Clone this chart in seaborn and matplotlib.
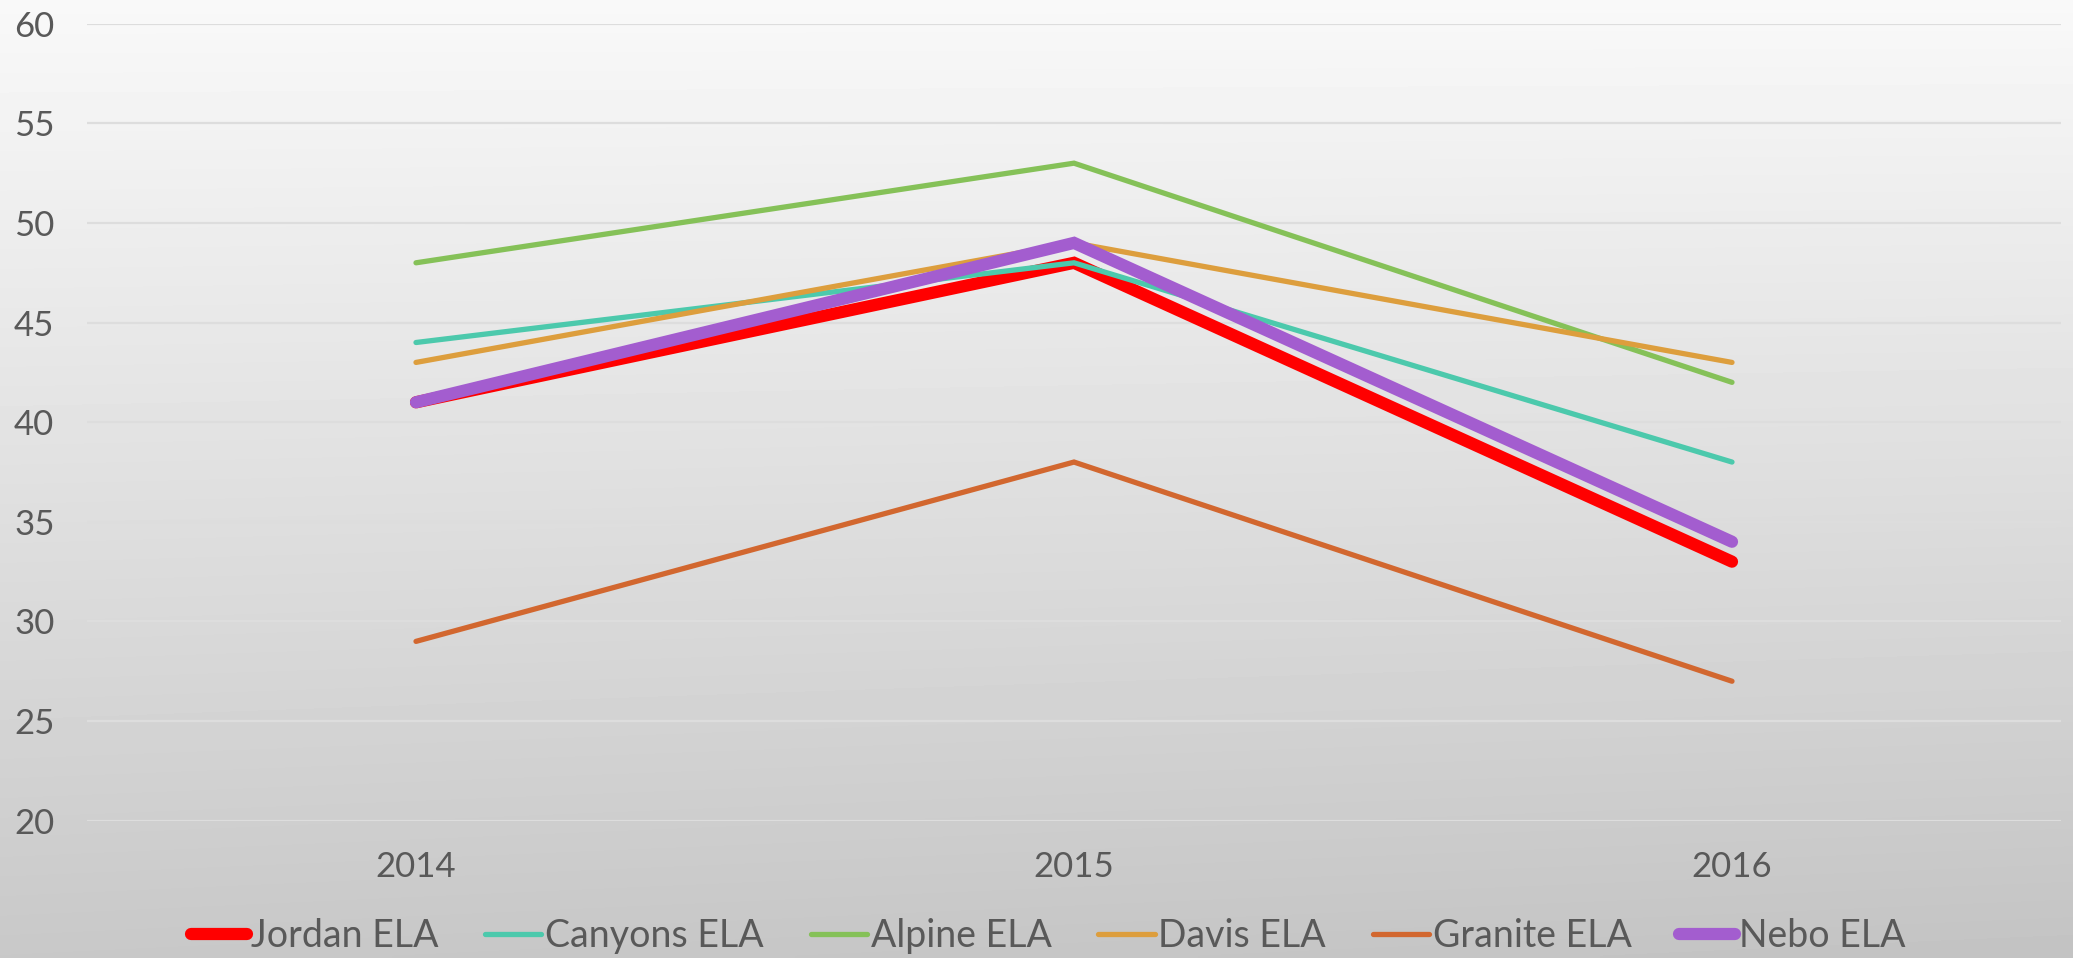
import numpy as np
import pandas as pd
import matplotlib
matplotlib.use("Agg")
import matplotlib.pyplot as plt
import matplotlib.transforms as mtransforms
import seaborn as sns

years = ["2014", "2015", "2016"]
jordan = [41, 48, 33]
canyons = [44, 48, 38]
alpine = [48, 53, 42]
davis = [43, 49, 43]
granite = [29, 38, 27]
nebo = [41, 49, 34]

series_names = ["Jordan ELA", "Canyons ELA", "Alpine ELA", "Davis ELA", "Granite ELA", "Nebo ELA"]
series_values = [jordan, canyons, alpine, davis, granite, nebo]
colors = ["#FF0000", "#4CC9AC", "#85C158", "#DD9E3D", "#D2672F", "#A35DCF"]
widths = [8.8, 3.8, 3.8, 3.8, 3.8, 8.8]

sns.set_theme(style="white")
plt.rcParams["font.family"] = ["Lato", "DejaVu Sans"]
text_color = "#595959"

W, H = 2073, 958
fig = plt.figure(figsize=(W / 100, H / 100), dpi=100)

# soft grey gradient behind everything
bg = fig.add_axes([0, 0, 1, 1], zorder=-10)
yy, xx = np.mgrid[0:1:200j, 0:1:200j]
shade = 0.975 - 0.19 * yy - 0.02 * xx * yy
bg.imshow(shade, cmap="gray", vmin=0, vmax=1, aspect="auto",
          extent=[0, 1, 0, 1], origin="upper", interpolation="bilinear")
bg.set_axis_off()

left, right = 87 / W, 2061 / W
bottom, top = 1 - 820.7 / H, 1 - 23.7 / H
ax = fig.add_axes([left, bottom, right - left, top - bottom])
ax.patch.set_alpha(0)

frames = []
for name, vals in zip(series_names, series_values):
    frames.append(pd.DataFrame({"pos": np.arange(len(years)), "value": vals, "series": name}))
df = pd.concat(frames, ignore_index=True)

for name, color, lw in zip(series_names, colors, widths):
    sub = df[df["series"] == name]
    sns.lineplot(data=sub, x="pos", y="value", ax=ax, color=color, linewidth=lw,
                 label=name, solid_capstyle="round", solid_joinstyle="miter")

ax.set_xlim(-0.5, 2.5)
ax.set_ylim(20, 60)
ax.set_yticks(np.arange(20, 61, 5))
ax.set_xticks(np.arange(len(years)))
ax.set_xticklabels(years)
ax.set_xlabel("")
ax.set_ylabel("")
ax.grid(axis="y", color="#DDDDDD", linewidth=1.6)
ax.set_axisbelow(True)
for s in ax.spines.values():
    s.set_visible(False)
ax.tick_params(axis="both", length=0, labelsize=25, colors=text_color)
ax.tick_params(axis="x", pad=22)
ax.yaxis.set_tick_params(pad=0)
ylabel_tf = mtransforms.blended_transform_factory(fig.transFigure, ax.transData)
for lbl in ax.get_yticklabels():
    lbl.set_horizontalalignment("left")
    lbl.set_transform(ylabel_tf)
    lbl.set_x(14 / W)

handles, labels = ax.get_legend_handles_labels()
ax.get_legend().remove()
fig.legend(handles, labels, loc="center", bbox_to_anchor=(1048 / W, 1 - 936 / H), ncol=6,
           frameon=False, fontsize=27, handlelength=1.5, handletextpad=0.1,
           columnspacing=1.25, labelcolor=text_color)

fig.savefig("out.png", dpi=100)
